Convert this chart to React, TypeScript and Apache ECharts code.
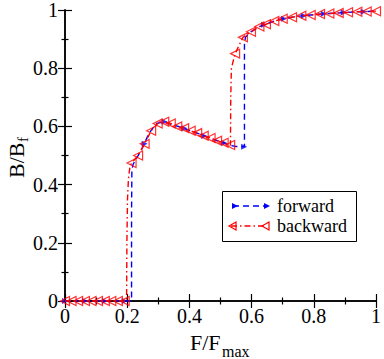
import React, { useEffect, useRef } from "react";
import * as echarts from "echarts";

// Forward sweep: curve points [F/Fmax, B/Bf]
const forwardCurve: number[][] = [
  [0, 0], [0.214, 0], [0.214, 0.3], [0.215, 0.45], [0.219, 0.47], [0.246, 0.52],
  [0.27, 0.576], [0.294, 0.61], [0.32, 0.616], [0.347, 0.605], [0.374, 0.597],
  [0.4, 0.586], [0.427, 0.576], [0.454, 0.565], [0.481, 0.554], [0.507, 0.545],
  [0.529, 0.535], [0.55, 0.531], [0.577, 0.53], [0.577, 0.88], [0.58, 0.906],
  [0.598, 0.925], [0.625, 0.943], [0.646, 0.951], [0.673, 0.962], [0.7, 0.97],
  [0.73, 0.975], [0.76, 0.98], [0.79, 0.983], [0.82, 0.986], [0.85, 0.988],
  [0.88, 0.99], [0.91, 0.992], [0.94, 0.994], [0.97, 0.995], [1.0, 0.996],
];
// Forward sweep: marker points
const forwardMarkers: number[][] = [
  [0, 0], [0.064, 0], [0.128, 0], [0.192, 0], [0.256, 0.54], [0.32, 0.616],
  [0.384, 0.594], [0.448, 0.567], [0.512, 0.543], [0.576, 0.53], [0.64, 0.949],
  [0.704, 0.97], [0.768, 0.98], [0.832, 0.987], [0.896, 0.991], [0.96, 0.994],
];
// Backward sweep: curve points
const backwardCurve: number[][] = [
  [0, 0], [0.198, 0], [0.199, 0.2], [0.201, 0.35], [0.204, 0.42], [0.208, 0.455],
  [0.214, 0.474], [0.235, 0.5], [0.256, 0.54], [0.277, 0.585], [0.298, 0.61],
  [0.319, 0.616], [0.34, 0.61], [0.361, 0.6], [0.383, 0.594], [0.404, 0.585],
  [0.425, 0.577], [0.446, 0.568], [0.468, 0.56], [0.489, 0.551], [0.51, 0.544],
  [0.532, 0.535], [0.533, 0.7], [0.535, 0.8], [0.547, 0.85], [0.572, 0.906],
  [0.598, 0.925], [0.625, 0.943], [0.646, 0.951], [0.673, 0.962], [0.7, 0.97],
  [0.73, 0.975], [0.76, 0.98], [0.79, 0.983], [0.82, 0.986], [0.85, 0.988],
  [0.88, 0.99], [0.91, 0.992], [0.94, 0.994], [0.97, 0.995], [1.0, 0.996],
];
// Backward sweep: marker points
const backwardMarkers: number[][] = [
  [0, 0], [0.021, 0], [0.042, 0], [0.064, 0], [0.085, 0], [0.106, 0], [0.128, 0],
  [0.149, 0], [0.17, 0], [0.192, 0],
  [0.214, 0.474], [0.235, 0.5], [0.256, 0.54], [0.277, 0.585], [0.298, 0.61],
  [0.319, 0.616], [0.34, 0.61], [0.361, 0.6], [0.383, 0.594], [0.404, 0.585],
  [0.425, 0.577], [0.446, 0.568], [0.468, 0.56], [0.489, 0.551], [0.51, 0.544],
  [0.531, 0.536], [0.547, 0.85], [0.572, 0.906], [0.598, 0.925], [0.625, 0.943],
  [0.646, 0.951], [0.673, 0.962], [0.7, 0.97], [0.73, 0.975], [0.76, 0.98],
  [0.79, 0.983], [0.82, 0.986], [0.85, 0.988], [0.88, 0.99], [0.91, 0.992],
  [0.94, 0.994], [0.97, 0.995], [1.0, 0.996],
];
const legendNames = ["forward", "backward"];

const SERIF = "'Liberation Serif', 'Times New Roman', serif";

export default function App() {
  const ref = useRef<HTMLDivElement>(null);
  useEffect(() => {
    if (!ref.current) return;
    const chart = echarts.init(ref.current, null, { renderer: "svg" });
    const tickCommon = {
      axisLine: { show: true, lineStyle: { color: "#000", width: 1.5 } },
      axisTick: { show: true, inside: true, length: 7, lineStyle: { color: "#000", width: 1.2 } },
      minorTick: { show: true, splitNumber: 2, length: 3.5, lineStyle: { color: "#000", width: 1.2 } },
      splitLine: { show: false },
      minorSplitLine: { show: false },
      min: 0, max: 1, interval: 0.2,
    };
    const labelStyle = { color: "#000", fontFamily: SERIF, fontSize: 20 };
    chart.setOption({
      animation: false,
      grid: { left: 65, top: 8, right: 7, bottom: 58, containLabel: false },
      xAxis: [
        { type: "value", position: "bottom", ...tickCommon, axisLabel: { ...labelStyle, margin: 5 } },
        { type: "value", position: "top", ...tickCommon, axisLabel: { show: false } },
      ],
      yAxis: [
        { type: "value", position: "left", ...tickCommon, axisLabel: { ...labelStyle, margin: 7 } },
        { type: "value", position: "right", ...tickCommon, axisLabel: { show: false } },
      ],
      series: [
        {
          name: legendNames[0], type: "line", data: forwardCurve, showSymbol: false, symbol: "none",
          lineStyle: { color: "#0000ff", width: 1.4, type: [6, 4] }, z: 2,
        },
        {
          type: "scatter", data: forwardMarkers, symbol: "triangle", symbolRotate: -90, symbolSize: 6,
          itemStyle: { color: "#0000ff" }, z: 3,
        },
        {
          name: legendNames[1], type: "line", data: backwardCurve, showSymbol: false, symbol: "none",
          lineStyle: { color: "#ff0000", width: 1.4, type: [6, 3, 1.5, 3] }, z: 4,
        },
        {
          type: "scatter", data: backwardMarkers, symbol: "triangle", symbolRotate: 90, symbolSize: 9,
          itemStyle: { color: "none", borderColor: "#ff0000", borderWidth: 1.2 }, z: 5,
        },
      ],
      graphic: [
        { type: "text", left: 190, top: 331, style: { text: "F/F", font: `22px ${SERIF}`, fill: "#000" } },
        { type: "text", left: 222, top: 343, style: { text: "max", font: `16px ${SERIF}`, fill: "#000" } },
        {
          type: "group", x: 16, y: 154, rotation: Math.PI / 2,
          children: [
            { type: "text", x: -24, y: 0, style: { text: "B/B", font: `22px ${SERIF}`, fill: "#000", align: "left", verticalAlign: "middle" } },
            { type: "text", x: 12, y: 7, style: { text: "f", font: `15px ${SERIF}`, fill: "#000", align: "left", verticalAlign: "middle" } },
          ],
        },
        {
          type: "rect", shape: { x: 222.5, y: 191.5, width: 134, height: 50 },
          style: { fill: "#fff", stroke: "#000", lineWidth: 1 }, z: 10,
        },
        {
          type: "line", shape: { x1: 233, y1: 206, x2: 267, y2: 206 },
          style: { stroke: "#0000ff", lineWidth: 1.4, lineDash: [6, 4] }, z: 11,
        },
        { type: "polygon", shape: { points: [[232, 203], [238, 206], [232, 209]] }, style: { fill: "#0000ff" }, z: 11 },
        { type: "polygon", shape: { points: [[264, 203], [270, 206], [264, 209]] }, style: { fill: "#0000ff" }, z: 11 },
        {
          type: "line", shape: { x1: 231, y1: 226, x2: 267, y2: 226 },
          style: { stroke: "#ff0000", lineWidth: 1.4, lineDash: [6, 3, 1.5, 3] }, z: 11,
        },
        { type: "polygon", shape: { points: [[229, 226], [236, 222], [236, 230]] }, style: { fill: "none", stroke: "#ff0000", lineWidth: 1.2 }, z: 11 },
        { type: "polygon", shape: { points: [[262, 226], [269, 222], [269, 230]] }, style: { fill: "none", stroke: "#ff0000", lineWidth: 1.2 }, z: 11 },
        { type: "text", x: 277, y: 206, style: { text: legendNames[0], font: `18px ${SERIF}`, fill: "#000", verticalAlign: "middle" }, z: 11 },
        { type: "text", x: 277, y: 226, style: { text: legendNames[1], font: `18px ${SERIF}`, fill: "#000", verticalAlign: "middle" }, z: 11 },
      ],
    });
    return () => chart.dispose();
  }, []);
  return <div ref={ref} style={{ width: 384, height: 359, position: "absolute", left: 0, top: 0 }} />;
}
